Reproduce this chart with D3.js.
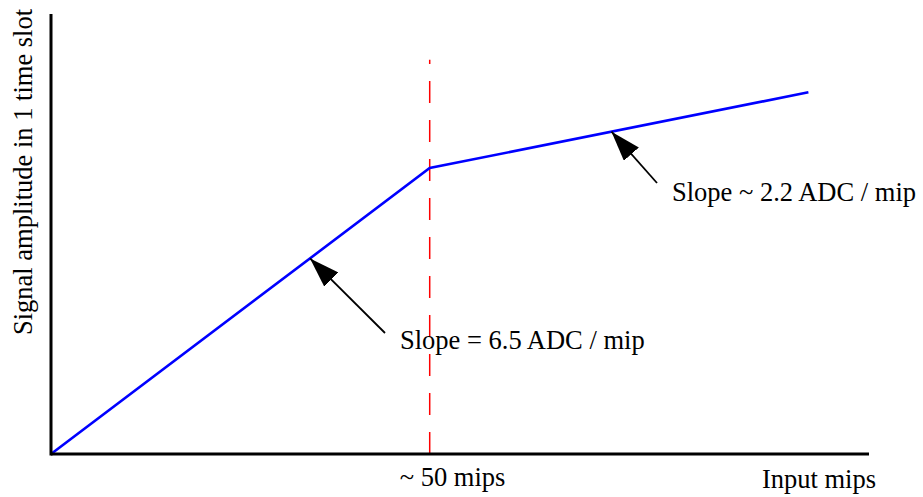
<!DOCTYPE html>
<html><head><meta charset="utf-8">
<script src="https://cdn.jsdelivr.net/npm/d3@7"></script>
<style>body{margin:0;background:#fff}svg{display:block}text{font-family:"Liberation Serif","Times New Roman",serif;fill:#000}</style>
</head><body><svg id="c" width="923" height="497"></svg>
<script>
// Data (input mips -> signal amplitude, arbitrary ADC units)
const mips = [0, 50, 100];
const amplitude = [0, 325, 411];
const breakMips = 50;
const xLabels = ["~ 50 mips", "Input mips"];
const yLabel = "Signal amplitude in 1 time slot";
const annotations = ["Slope = 6.5 ADC / mip", "Slope ~ 2.2 ADC / mip"];
const arrowTipMips = [34.2, 74];

const svg = d3.select("#c");
const x = d3.scaleLinear().domain([0, 108]).range([51, 869]);
const y = d3.scaleLinear().domain([0, 500]).range([454, 14]);
const FS = 26.5;

const defs = svg.append("defs");
defs.append("marker").attr("id","ah").attr("viewBox","0 0 30 20").attr("refX",30).attr("refY",10)
  .attr("markerWidth",30).attr("markerHeight",20).attr("markerUnits","userSpaceOnUse").attr("orient","auto")
  .append("path").attr("d","M0,0 L30,10 L0,20 Z").attr("fill","#000");

// dashed break line
svg.append("line").attr("x1",x(breakMips)).attr("x2",x(breakMips)).attr("y1",y(0)).attr("y2",y(448))
  .attr("stroke","#ff0000").attr("stroke-width",1.5).attr("stroke-dasharray","22,17");

// curve
const pts = mips.map((m,i)=>[m, amplitude[i]]);
svg.append("path").datum(pts).attr("fill","none").attr("stroke","#0000ff").attr("stroke-width",2.6)
  .attr("d", d3.line().x(d=>x(d[0])).y(d=>y(d[1])));

// axes
svg.append("line").attr("x1",x(0)).attr("x2",x(0)).attr("y1",y(0)+1.5).attr("y2",y(500)).attr("stroke","#000").attr("stroke-width",3);
svg.append("line").attr("x1",x(0)).attr("x2",x(108)).attr("y1",y(0)).attr("y2",y(0)).attr("stroke","#000").attr("stroke-width",3);

// labels
svg.append("text").attr("x",452.5).attr("y",486).attr("text-anchor","middle").attr("font-size",FS).text(xLabels[0]);
svg.append("text").attr("x",876).attr("y",488).attr("text-anchor","end").attr("font-size",FS).text(xLabels[1]);
svg.append("text").attr("transform","translate(32,335) rotate(-90)").attr("font-size",FS).text(yLabel);

// annotations
const interp = m => m <= breakMips ? amplitude[1]*m/breakMips : amplitude[1] + (amplitude[2]-amplitude[1])*(m-breakMips)/(mips[2]-breakMips);
const tails = [[385,333],[657,183]];
arrowTipMips.forEach((m,i)=>{
  svg.append("line").attr("x1",tails[i][0]).attr("y1",tails[i][1]).attr("x2",x(m)).attr("y2",y(interp(m)))
    .attr("stroke","#000").attr("stroke-width",1.8).attr("marker-end","url(#ah)");
});
svg.append("text").attr("x",400).attr("y",349).attr("font-size",FS).text(annotations[0]);
svg.append("text").attr("x",672).attr("y",201).attr("font-size",FS).text(annotations[1]);
</script></body></html>
